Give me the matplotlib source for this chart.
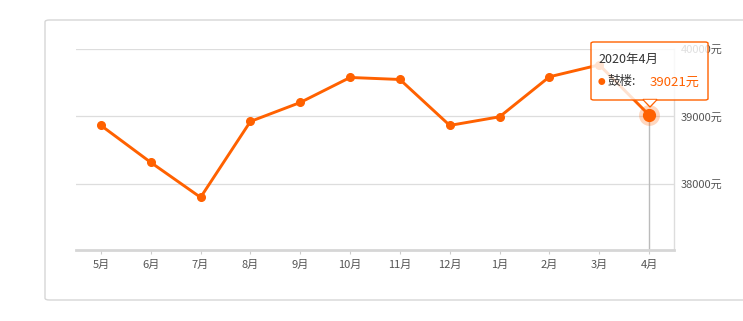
import matplotlib.pyplot as plt
from matplotlib.patches import FancyBboxPatch, Polygon

plt.rcParams['font.family'] = ['Noto Sans CJK SC', 'DejaVu Sans']

months = ['5月', '6月', '7月', '8月', '9月', '10月', '11月', '12月', '1月', '2月', '3月', '4月']
prices = [38867, 38319, 37800, 38926, 39207, 39578, 39548, 38867, 38995, 39588, 39765, 39021]
yticks = [38000, 39000, 40000]
tip_title = '2020年4月'
tip_name = '鼓楼:'
tip_value = '39021元'

orange = '#ff6100'
W, H = 743, 321
fig = plt.figure(figsize=(W / 100, H / 100), dpi=100)

# outer rounded frame (cut off on the right)
frame = FancyBboxPatch((45 / W, 1 - 300 / H), 720 / W, 280 / H,
                       boxstyle='round,pad=0,rounding_size=0.006',
                       transform=fig.transFigure, fill=False,
                       edgecolor='#d6d6d6', linewidth=1.0)
fig.patches.append(frame)

ax = fig.add_axes([76 / W, 1 - 250 / H, (674 - 76) / W, (250 - 49) / H])
x = list(range(len(months)))
ax.plot(x, prices, color=orange, linewidth=2.1, marker='o', markersize=5.5, zorder=3)

ax.set_xlim(-0.5, len(months) - 0.5)
ax.set_ylim(37020, 40000)
ax.set_xticks(x)
ax.set_xticklabels(months, fontsize=8, color='#555555')
ax.set_yticks(yticks)
ax.set_yticklabels([f'{v}元' for v in yticks], fontsize=8, color='#555555')
ax.yaxis.tick_right()
ax.tick_params(axis='y', length=0, pad=5)
ax.tick_params(axis='x', length=3, color='#cccccc', pad=4)
ax.grid(axis='y', color='#dddddd', linewidth=0.9)
for s in ['top', 'left']:
    ax.spines[s].set_visible(False)
ax.spines['bottom'].set_color('#d6d6d6')
ax.spines['bottom'].set_linewidth(2)
ax.spines['right'].set_color('#dddddd')
ax.spines['right'].set_linewidth(1)

# hover state on the last point
last = len(months) - 1
ax.axvline(last, ymax=(prices[last] - 37020) / (40000 - 37020), color='#bbbbbb', linewidth=1, zorder=2)
ax.plot(last, prices[last], 'o', markersize=15, color=orange, alpha=0.25, zorder=4, markeredgewidth=0)
ax.plot(last, prices[last], 'o', markersize=8.5, color=orange, zorder=5)

# tooltip box
bx0, by0, bx1, by1 = 591, 42, 708, 100
tip = FancyBboxPatch((bx0 / W, 1 - by1 / H), (bx1 - bx0) / W, (by1 - by0) / H,
                     boxstyle='round,pad=0,rounding_size=0.004',
                     transform=fig.transFigure, facecolor=(1, 1, 1, 0.82),
                     edgecolor=orange, linewidth=1.0, zorder=10)
fig.patches.append(tip)
arrow = Polygon([(643 / W, 1 - 99.5 / H), (657 / W, 1 - 99.5 / H), (650 / W, 1 - 107 / H)],
                closed=True, transform=fig.transFigure, facecolor='white',
                edgecolor=orange, linewidth=1.0, zorder=11)
fig.patches.append(arrow)
fig.patches.append(Polygon([(644 / W, 1 - 99.8 / H), (656 / W, 1 - 99.8 / H), (650 / W, 1 - 105.5 / H)],
                           closed=True, transform=fig.transFigure, facecolor='white',
                           edgecolor='none', zorder=12))
fig.text(598 / W, 1 - 59 / H, tip_title, fontsize=9, color='#333333', va='center', zorder=13)
fig.text(601 / W, 1 - 82 / H, '●', fontsize=5.5, color=orange, va='center', ha='center', zorder=13)
fig.text(607.5 / W, 1 - 82 / H, tip_name, fontsize=9, color='#333333', va='center', zorder=13)
fig.text(650 / W, 1 - 82 / H, tip_value, fontsize=9.5, color=orange, va='center', zorder=13)

fig.savefig('out.png', dpi=100)
